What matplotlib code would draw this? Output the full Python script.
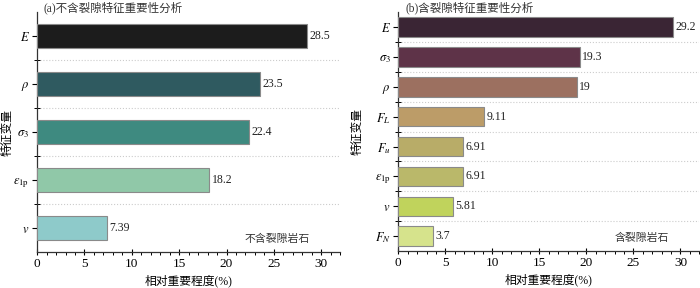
import matplotlib
matplotlib.use('Agg')
import matplotlib.pyplot as plt
import numpy as np
from matplotlib.ticker import MultipleLocator

plt.rcParams['font.family'] = ['Liberation Serif', 'Noto Sans CJK SC']
plt.rcParams['mathtext.fontset'] = 'stix'

# (a) rock without fissures
feat_a = [r'$E$', r'$\rho$', r'$\sigma_3$', r'$\varepsilon_{1\mathrm{p}}$', r'$v$']
vals_a = [28.5, 23.5, 22.4, 18.2, 7.39]
labels_a = ['28.5', '23.5', '22.4', '18.2', '7.39']
colors_a = ['#1c1c1c', '#2f5a60', '#3e8a80', '#90c8a8', '#8ecaca']

# (b) rock with fissures
feat_b = [r'$E$', r'$\sigma_3$', r'$\rho$', r'$F_L$', r'$F_u$',
          r'$\varepsilon_{1\mathrm{p}}$', r'$v$', r'$F_N$']
vals_b = [29.2, 19.3, 19, 9.11, 6.91, 6.91, 5.81, 3.7]
labels_b = ['29.2', '19.3', '19', '9.11', '6.91', '6.91', '5.81', '3.7']
colors_b = ['#3a2534', '#5e3348', '#9c7060', '#bc9c68', '#b8ac68',
            '#bab86a', '#c0d35c', '#d6e38c']

fig = plt.figure(figsize=(7, 2.88), dpi=100)
ax1 = fig.add_axes([0.053, 0.125, 0.433, 0.833])
ax2 = fig.add_axes([0.569, 0.128, 0.430, 0.830])


def draw_panel(ax, feats, vals, labels, colors, height, title, note, ylab_x, title_x):
    n = len(feats)
    y = np.arange(n)
    ax.barh(y, vals, height=height, color=colors, edgecolor='#8a8a8a', linewidth=0.8, zorder=3)
    for yi, v, lab in zip(y, vals, labels):
        ax.text(v + 0.25, yi, lab, va='center', ha='left', fontsize=8.5, color='#222222')
    ax.set_ylim(n - 0.5, -0.5)
    ax.set_xlim(0, 32)
    ax.set_yticks(y)
    ax.set_yticklabels(feats, fontsize=9)
    ax.set_yticks(np.arange(n - 1) + 0.5, minor=True)
    ax.xaxis.set_major_locator(MultipleLocator(5))
    ax.xaxis.set_minor_locator(MultipleLocator(1))
    ax.tick_params(axis='x', which='major', direction='inout', length=5, width=0.8, labelsize=9.5, pad=2)
    ax.tick_params(axis='x', which='minor', direction='out', length=2.5, width=0.7)
    ax.tick_params(axis='y', which='major', direction='out', length=3.5, width=0.8, pad=2)
    ax.tick_params(axis='y', which='minor', direction='inout', length=4, width=0.7)
    for s in ['top', 'right']:
        ax.spines[s].set_visible(False)
    for s in ['left', 'bottom']:
        ax.spines[s].set_linewidth(0.9)
        ax.spines[s].set_color('#333333')
    ax.grid(axis='y', which='minor', linestyle=':', color='#cccccc', linewidth=0.8, zorder=0)
    ax.set_xlabel('相对重要程度(%)', fontsize=8.5, labelpad=3)
    ax.set_ylabel('特征变量', fontsize=8.5)
    ax.yaxis.set_label_coords(ylab_x, 0.5)
    fig.text(title_x, 1 - 7.5 / 288, title, fontsize=8.3, ha='left', va='center', color='#333333')
    ax.text(0.9, 0.055, note, transform=ax.transAxes, fontsize=7.8, ha='right', va='center', color='#333333')


draw_panel(ax1, feat_a, vals_a, labels_a, colors_a, 0.5,
           '(a)不含裂隙特征重要性分析', '不含裂隙岩石', -0.077, 43 / 700)
draw_panel(ax2, feat_b, vals_b, labels_b, colors_b, 0.65,
           '(b)含裂隙特征重要性分析', '含裂隙岩石', -0.116, 405 / 700)

fig.savefig('out.png', dpi=100)
